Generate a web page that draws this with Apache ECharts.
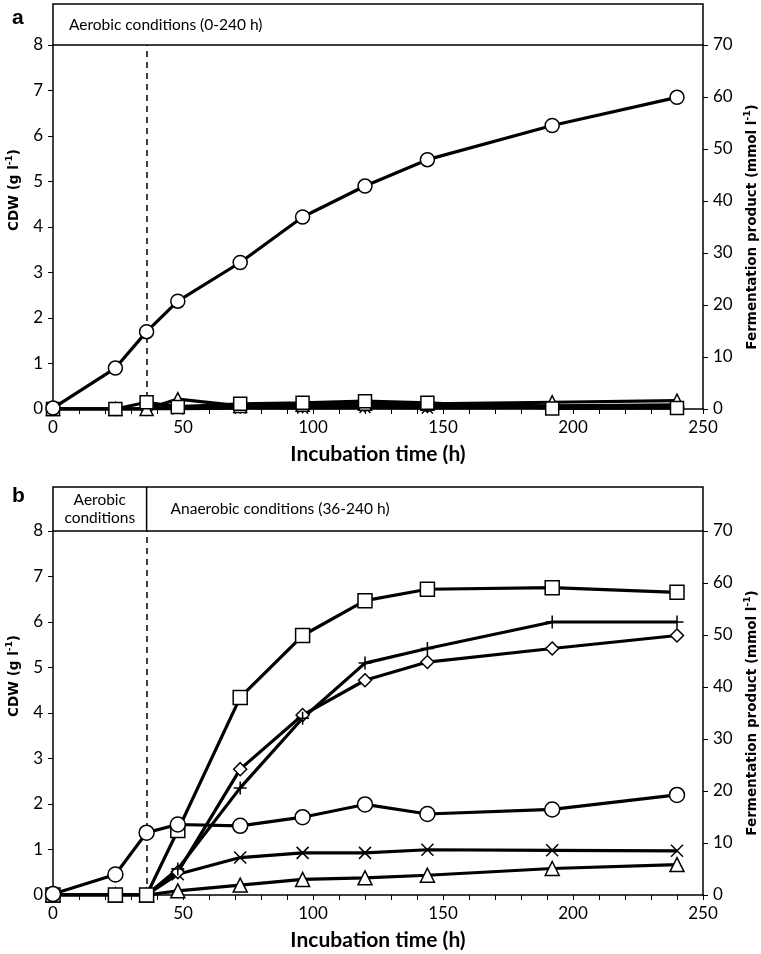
<!DOCTYPE html>
<html>
<head>
<meta charset="utf-8">
<script src="https://cdn.jsdelivr.net/npm/echarts@6/dist/echarts.min.js"></script>
<style>
html,body{margin:0;padding:0;background:#fff;}
#chart{width:761px;height:954px;}
</style>
</head>
<body>
<div id="chart"></div>
<script>
// ---- data ----
const hours = [0, 24, 36, 48, 72, 96, 120, 144, 192, 240];
const xTicks = [0, 50, 100, 150, 200, 250];
const cdwTicks = [0, 1, 2, 3, 4, 5, 6, 7, 8];
const productTicks = [0, 10, 20, 30, 40, 50, 60, 70];

// panel a (aerobic) : CDW in g/l, products in mmol/l
const aCircle   = [0.02, 0.90, 1.70, 2.37, 3.22, 4.22, 4.90, 5.48, 6.23, 6.85];
const aSquare   = [0, 0, 1.3, 0.4, 1.0, 1.2, 1.5, 1.2, 0.1, 0.2];
const aTriangle = [0, 0, 0, 1.9, 0.6, 0.8, 1.0, 1.0, 1.3, 1.6];
const aDiamond  = [0, 0, 0, 0.5, 0.5, 0.6, 0.7, 0.6, 0.5, 0.6];
const aCross    = [0, 0, 0, 0, 0.2, 0.2, 0.3, 0.2, 0.3, 0.3];
const aPlus     = [0, 0, 0, 0.3, 0.8, 1.0, 1.2, 0.9, 0.6, 0.8];

// panel b (aerobic then anaerobic)
const bCircle   = [0.02, 0.45, 1.37, 1.55, 1.52, 1.71, 1.99, 1.78, 1.88, 2.20];
const bSquare   = [0, 0, 0, 12.4, 38.0, 49.9, 56.6, 58.8, 59.1, 58.2];
const bPlus     = [0, 0, 0, 5.0, 20.6, 34.0, 44.6, 47.4, 52.5, 52.5];
const bDiamond  = [0, 0, 0, 4.4, 24.2, 34.6, 41.3, 44.8, 47.4, 49.9];
const bCross    = [0, 0, 0, 4.0, 7.2, 8.1, 8.1, 8.7, 8.6, 8.5];
const bTriangle = [0, 0, 0, 0.8, 1.9, 3.0, 3.3, 3.8, 5.1, 5.85];

const switchTime = 36;

// ---- chart ----
const chart = echarts.init(document.getElementById('chart'), null, {renderer: 'canvas'});
const FONT = 'Lato, "Open Sans", sans-serif';
const TITLE_FONT = '"DejaVu Sans", Verdana, sans-serif';
const PLUS = 'path://M5 0 L5 10 M0 5 L10 5';
const CROSS = 'path://M0 0 L10 10 M10 0 L0 10';

function pairs(vals) { return hours.map((h, i) => [h, vals[i]]); }

function mkSeries(vals, symbol, xIdx, yIdx, size, extra) {
  return Object.assign({
    type: 'line',
    data: pairs(vals),
    xAxisIndex: xIdx,
    yAxisIndex: yIdx,
    symbol: symbol,
    symbolSize: size,
    showAllSymbol: true,
    lineStyle: {color: '#000', width: 3.2},
    itemStyle: {color: '#fff', borderColor: '#000', borderWidth: 1.5},
    emphasis: {disabled: true},
    animation: false
  }, extra || {});
}

const dashLine = {
  markLine: {
    silent: true,
    symbol: ['none', 'none'],
    label: {show: false},
    lineStyle: {color: '#000', type: [6, 5], width: 1.5},
    data: [{xAxis: switchTime}],
    animation: false
  }
};

const gridTops = [45, 531];
const gridH = 364;

function xAxisDef(gi) {
  return {
    gridIndex: gi, type: 'value', min: xTicks[0], max: xTicks[xTicks.length - 1], interval: 50,
    axisLine: {show: true, onZero: false, lineStyle: {color: '#000', width: 1.5}},
    axisTick: {show: true, length: 5, lineStyle: {color: '#000', width: 1}},
    minorTick: {show: true, splitNumber: 5, length: 5, lineStyle: {color: '#000', width: 1}},
    splitLine: {show: false},
    axisLabel: {color: '#000', fontSize: 17, fontFamily: FONT, margin: 10},
    name: 'Incubation time (h)', nameLocation: 'middle', nameGap: 35,
    nameTextStyle: {color: '#000', fontSize: 21, fontWeight: 'bold', fontFamily: FONT}
  };
}
function richName(pad) {
  return {
    color: '#000', fontFamily: TITLE_FONT, padding: pad,
    rich: {
      b: {fontSize: 13.5, fontWeight: 'bold', fontFamily: TITLE_FONT, color: '#000', lineHeight: 18},
      s: {fontSize: 9, fontWeight: 'bold', fontFamily: TITLE_FONT, color: '#000', verticalAlign: 'top', lineHeight: 18, padding: [0, 0, 8, 0]}
    }
  };
}
function leftAxis(gi) {
  return {
    gridIndex: gi, type: 'value', position: 'left', min: cdwTicks[0], max: cdwTicks[cdwTicks.length - 1], interval: 1,
    axisLine: {show: true, lineStyle: {color: '#000', width: 1.5}},
    axisTick: {show: true, length: 5, lineStyle: {color: '#000'}},
    splitLine: {show: false},
    axisLabel: {color: '#000', fontSize: 17, fontFamily: FONT, margin: 10},
    name: '{b|CDW (g l}{s|-1}{b|)}', nameLocation: 'middle', nameGap: 23,
    nameTextStyle: richName([0, 0, 0, 74])
  };
}
function rightAxis(gi) {
  return {
    gridIndex: gi, type: 'value', position: 'right', min: productTicks[0], max: productTicks[productTicks.length - 1], interval: 10,
    axisLine: {show: true, lineStyle: {color: '#000', width: 1.5}},
    axisTick: {show: true, length: 5, lineStyle: {color: '#000'}},
    splitLine: {show: false},
    axisLabel: {color: '#000', fontSize: 17, fontFamily: FONT, margin: 10},
    name: '{b|Fermentation product (mmol l}{s|-1}{b|)}', nameLocation: 'middle', nameGap: 36,
    nameTextStyle: richName(0)
  };
}

const option = {
  backgroundColor: '#fff',
  animation: false,
  grid: [
    {left: 53, right: 58, top: gridTops[0], height: gridH, containLabel: false, outerBoundsMode: 'none'},
    {left: 53, right: 58, top: gridTops[1], height: gridH, containLabel: false, outerBoundsMode: 'none'}
  ],
  xAxis: [xAxisDef(0), xAxisDef(1)],
  yAxis: [leftAxis(0), rightAxis(0), leftAxis(1), rightAxis(1)],
  series: [
    // panel a
    mkSeries(aCross, CROSS, 0, 1, 11, {z: 3}),
    mkSeries(aPlus, PLUS, 0, 1, 12, {z: 3}),
    mkSeries(aDiamond, 'diamond', 0, 1, 13, {z: 4}),
    mkSeries(aTriangle, 'triangle', 0, 1, 13, {z: 4}),
    mkSeries(aSquare, 'rect', 0, 1, 13, {z: 5}),
    mkSeries(aCircle, 'circle', 0, 0, 14, Object.assign({z: 6}, dashLine)),
    // panel b
    mkSeries(bTriangle, 'triangle', 1, 3, 14, {z: 4}),
    mkSeries(bCross, CROSS, 1, 3, 12, {z: 4}),
    mkSeries(bDiamond, 'diamond', 1, 3, 13, {z: 4}),
    mkSeries(bPlus, PLUS, 1, 3, 13, {z: 4}),
    mkSeries(bSquare, 'rect', 1, 3, 14, {z: 5}),
    mkSeries(bCircle, 'circle', 1, 2, 15, Object.assign({z: 6}, dashLine))
  ]
};
chart.setOption(option);

// header boxes above the plots
const xL = chart.convertToPixel({xAxisIndex: 0}, xTicks[0]);
const xR = chart.convertToPixel({xAxisIndex: 0}, xTicks[xTicks.length - 1]);
const xSwitch = chart.convertToPixel({xAxisIndex: 1}, switchTime);
const boxA = {top: 4, bottom: gridTops[0]};
const boxB = {top: 487, bottom: gridTops[1]};
const txtStyle = {fill: '#000', font: '15.5px ' + FONT};

chart.setOption({
  graphic: [
    {type: 'rect', shape: {x: xL, y: boxA.top, width: xR - xL, height: boxA.bottom - boxA.top},
     style: {fill: 'none', stroke: '#000', lineWidth: 1.5}, z: 10, silent: true},
    {type: 'text', x: xL + 16, y: (boxA.top + boxA.bottom) / 2,
     style: Object.assign({text: 'Aerobic conditions (0-240 h)', textVerticalAlign: 'middle'}, txtStyle), z: 10},
    {type: 'rect', shape: {x: xL, y: boxB.top, width: xR - xL, height: boxB.bottom - boxB.top},
     style: {fill: 'none', stroke: '#000', lineWidth: 1.5}, z: 10, silent: true},
    {type: 'line', shape: {x1: xSwitch, y1: boxB.top, x2: xSwitch, y2: boxB.bottom},
     style: {stroke: '#000', lineWidth: 1.5}, z: 10, silent: true},
    {type: 'text', x: (xL + xSwitch) / 2, y: (boxB.top + boxB.bottom) / 2,
     style: Object.assign({text: 'Aerobic\nconditions', textAlign: 'center', textVerticalAlign: 'middle', lineHeight: 18}, txtStyle), z: 10},
    {type: 'text', x: xSwitch + 24, y: (boxB.top + boxB.bottom) / 2,
     style: Object.assign({text: 'Anaerobic conditions (36-240 h)', textVerticalAlign: 'middle'}, txtStyle), z: 10},
    {type: 'text', x: 12, y: 18,
     style: {text: 'a', fill: '#000', font: 'bold 21px "Liberation Sans", Arial, sans-serif', textVerticalAlign: 'middle'}, z: 10},
    {type: 'text', x: 12, y: 496,
     style: {text: 'b', fill: '#000', font: 'bold 21px "Liberation Sans", Arial, sans-serif', textVerticalAlign: 'middle'}, z: 10}
  ]
});
</script>
</body>
</html>
